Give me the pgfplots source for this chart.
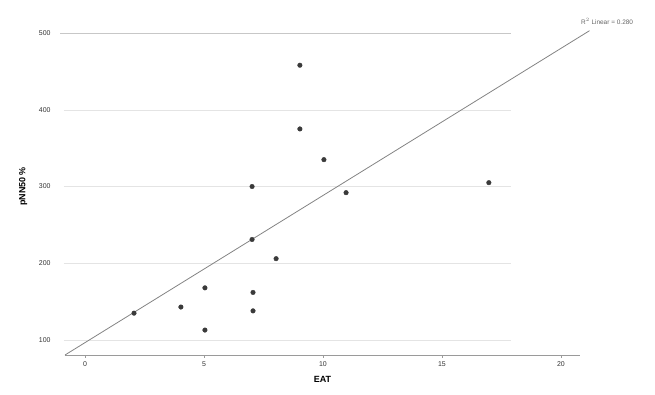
\documentclass[border=0pt]{standalone}
\usepackage{pgfplots}
\pgfplotsset{compat=1.18}
\usepackage{fontspec}
\setmainfont{Liberation Sans}
\definecolor{pt}{HTML}{3A3A3A}
\definecolor{ax}{HTML}{9A9A9A}
\definecolor{grd}{HTML}{E4E4E4}
\begin{document}
\begin{tikzpicture}
\begin{axis}[
  at={(0,0)}, anchor=south west,
  scale only axis,
  width=515bp, height=322bp,
  xmin=-0.84, xmax=20.8,
  ymin=80.5, ymax=500,
  axis x line*=bottom,
  axis y line=none,
  axis line style={ax, line width=0.8pt},
  xtick={0,5,10,15,20},
  ytick=\empty,
  tick style={ax},
  major tick length=3pt,
  xtick align=outside,
  tick label style={font=\fontsize{7}{8}\selectfont, text=black!80},
  /pgf/number format/assume math mode=true,
  xlabel={\textbf{EAT}},
  label style={font=\fontsize{9}{10}\selectfont},
  xlabel style={yshift=-3pt},
  clip=false,
]
% horizontal reference lines and y tick labels (no vertical axis line)
\pgfplotsinvokeforeach{100,200,300,400}{
  \draw[grd, line width=0.5pt] (axis cs:-0.9,#1) -- (axis cs:17.9,#1);
}
\draw[black!22, line width=0.7pt] (axis cs:-1.05,500) -- (axis cs:17.9,500);
\pgfplotsinvokeforeach{100,200,300,400,500}{
  \node[font=\fontsize{7}{8}\selectfont, text=black!80, anchor=east] at (axis cs:-1.3,#1) {#1};
}
\node[rotate=90, font=\bfseries\fontsize{9}{10}\selectfont] at (axis cs:-2.6,300) {pNN50 \%};

% fitted line
\addplot[ax!85!black, line width=0.8pt] coordinates {(-0.84,80.5) (21.2,503)};
\node[font=\fontsize{6.5}{7}\selectfont, text=black!60, anchor=west] at (axis cs:20.7,515) {R$^2$ Linear = 0.280};

% observations
\addplot[only marks, mark=*, mark size=2.3pt, pt, mark options={draw=pt, fill=pt}] coordinates {
  (9.03,458) (9.03,375) (10.04,335) (7.02,300) (10.97,292)
  (16.97,305) (7.02,231) (8.03,206) (5.04,168) (4.03,143)
  (2.06,135) (7.06,162) (7.06,138) (5.04,113)
};
\end{axis}
\pgfresetboundingbox
\useasboundingbox (-65bp,-40bp) rectangle (590bp,355bp);
\end{tikzpicture}
\end{document}
